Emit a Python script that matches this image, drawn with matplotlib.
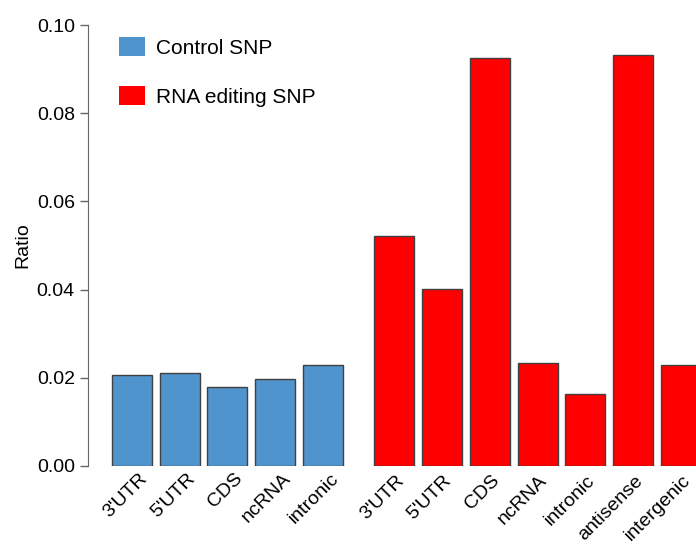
import matplotlib
matplotlib.use("Agg")
import matplotlib.pyplot as plt
import matplotlib.patches as mpatches
import matplotlib.transforms as mtransforms
import numpy as np

plt.rcParams["font.family"] = ["Liberation Sans", "DejaVu Sans"]

# ---------------------------------------------------------------------------
# Data
# ---------------------------------------------------------------------------
control_labels = ["3'UTR", "5'UTR", "CDS", "ncRNA", "intronic"]
control_values = [0.0206, 0.0210, 0.0179, 0.0197, 0.0230]

editing_labels = ["3'UTR", "5'UTR", "CDS", "ncRNA", "intronic", "antisense", "intergenic"]
editing_values = [0.0522, 0.0402, 0.0926, 0.0234, 0.0164, 0.0933, 0.0230]

BLUE = "#4f94cd"
RED = "#ff0000"
EDGE = "#404040"

fig = plt.figure(figsize=(6.96, 5.47), dpi=100)
ax = fig.add_axes([88 / 696, 81 / 547, 1 - 88 / 696, 441 / 547])

x_ctrl = np.arange(len(control_values))
x_edit = np.arange(len(editing_values)) + len(control_values) + 0.5

ax.bar(x_ctrl, control_values, width=0.84, color=BLUE, edgecolor=EDGE, linewidth=1)
ax.bar(x_edit, editing_values, width=0.84, color=RED, edgecolor=EDGE, linewidth=1)

ax.set_xlim(-0.92, 11.82)
ax.set_ylim(0, 0.10)
ax.set_yticks(np.arange(0, 0.101, 0.02))
ax.set_yticklabels([f"{v:.2f}" for v in np.arange(0, 0.101, 0.02)], fontsize=14)
ax.set_ylabel("Ratio", fontsize=14, labelpad=4)

ax.set_xticks(np.concatenate([x_ctrl, x_edit]))
ax.set_xticklabels(control_labels + editing_labels, rotation=45, ha="right",
                   va="top", rotation_mode="anchor", fontsize=14)
ax.tick_params(axis="x", length=0, pad=3)
ax.tick_params(axis="y", length=6, color="#666666", width=1)

# the original's rotated labels sit a little right of the bar centres
# (more so under the control group)
for i, lbl in enumerate(ax.get_xticklabels()):
    dx = 7 if i < len(control_labels) else 1
    dy = 0 if i < len(control_labels) else -2
    shift = mtransforms.ScaledTranslation(dx / 100, dy / 100, fig.dpi_scale_trans)
    lbl.set_transform(lbl.get_transform() + shift)

for s in ("top", "right", "bottom"):
    ax.spines[s].set_visible(False)
ax.spines["left"].set_color("#666666")

handles = [mpatches.Patch(facecolor=BLUE, edgecolor="none", label="Control SNP"),
           mpatches.Patch(facecolor=RED, edgecolor="none", label="RNA editing SNP")]
ax.legend(handles=handles, loc="upper left", bbox_to_anchor=(0.02, 1.015),
          frameon=False, fontsize=15, handlelength=1.25, handleheight=1.05,
          labelspacing=1.35, handletextpad=0.55)

fig.savefig("out.png", dpi=100)
